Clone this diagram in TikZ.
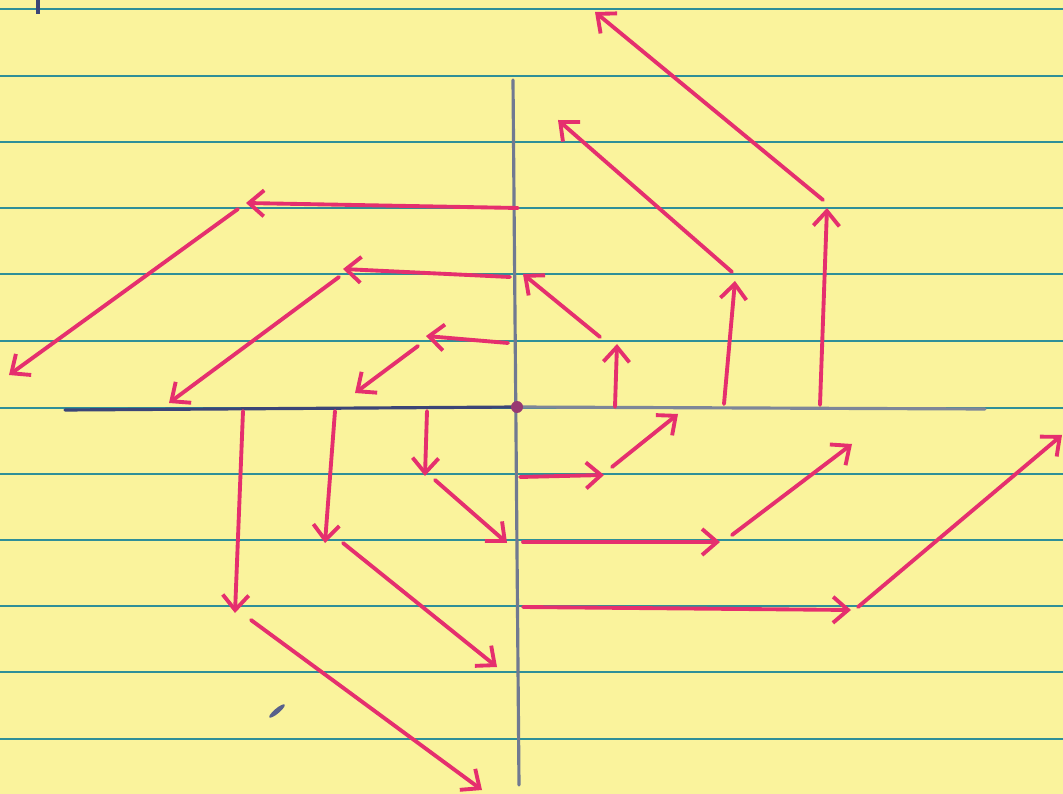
\documentclass[tikz,border=0pt]{standalone}
\usepackage{xcolor}
\usepackage{tikz}
\usetikzlibrary{arrows.meta}
\definecolor{paper}{HTML}{FAF39C}
\definecolor{ruling}{HTML}{2E8F98}
\definecolor{pen}{HTML}{E52F6E}
\definecolor{axisdark}{HTML}{3B4577}
\definecolor{axisgray}{HTML}{7D8698}

\begin{document}
\begin{tikzpicture}[x=0.01cm, y=-0.01cm,
  rule/.style={ruling, line width=0.6pt},
  ax/.style={line width=0.9pt, line cap=round},
  vec/.style={pen, line width=1.1pt, line cap=round, line join=round,
    -{Straight Barb[length=1.5mm,width=2.6mm]}}]
\fill[paper] (0,0) rectangle (1063,794);
\useasboundingbox (0,0) rectangle (1063,794);
\foreach \y in {9,76,142,208,274,341,408,474,540,606,672,739}
  \draw[rule] (0,\y) -- (1063,\y);

% axes
\coordinate (xl) at (65,410);
\coordinate (o) at (517,407);
\coordinate (xr) at (985,409);
\coordinate (yt) at (513,80);
\coordinate (yb) at (519,785);
\draw[ax, axisdark] (xl) -- (o);
\draw[ax, axisgray] (o) -- (xr);
\draw[ax, axisgray!80!axisdark] (yt) -- (yb);
\fill[pen!55!axisdark] (o) circle (6);

% upper right
\coordinate (ur1a) at (615,407);  \coordinate (ur1b) at (617,344);
\coordinate (ur1c) at (600,337);  \coordinate (ur1d) at (523,274);
\coordinate (ur2a) at (724,404);  \coordinate (ur2b) at (735,281);
\coordinate (ur2c) at (732,272);  \coordinate (ur2d) at (558,120);
\coordinate (ur3a) at (820,405);  \coordinate (ur3b) at (827,208);
\coordinate (ur3c) at (823,200);  \coordinate (ur3d) at (595,12);
\draw[vec] (ur1a) -- (ur1b);
\draw[vec] (ur1c) -- (ur1d);
\draw[vec] (ur2a) -- (ur2b);
\draw[vec] (ur2c) -- (ur2d);
\draw[vec] (ur3a) -- (ur3b);
\draw[vec] (ur3c) -- (ur3d);

% upper left
\coordinate (ul1a) at (508,343);  \coordinate (ul1b) at (426,336);
\coordinate (ul1c) at (418,346);  \coordinate (ul1d) at (355,393);
\coordinate (ul2a) at (510,277);  \coordinate (ul2b) at (343,269);
\coordinate (ul2c) at (339,277);  \coordinate (ul2d) at (169,403);
\coordinate (ul3a) at (518,208);  \coordinate (ul3b) at (246,203);
\coordinate (ul3c) at (238,209);  \coordinate (ul3d) at (9,375);
\draw[vec] (ul1a) -- (ul1b);
\draw[vec] (ul1c) -- (ul1d);
\draw[vec] (ul2a) -- (ul2b);
\draw[vec] (ul2c) -- (ul2d);
\draw[vec] (ul3a) -- (ul3b);
\draw[vec] (ul3c) -- (ul3d);

% lower left
\coordinate (ll1a) at (427,411);  \coordinate (ll1b) at (425,476);
\coordinate (ll1c) at (435,480);  \coordinate (ll1d) at (507,543);
\coordinate (ll2a) at (335,411);  \coordinate (ll2b) at (325,543);
\coordinate (ll2c) at (343,543);  \coordinate (ll2d) at (497,667);
\coordinate (ll3a) at (243,411);  \coordinate (ll3b) at (235,613);
\coordinate (ll3c) at (251,620);  \coordinate (ll3d) at (482,790);
\draw[vec] (ll1a) -- (ll1b);
\draw[vec] (ll1c) -- (ll1d);
\draw[vec] (ll2a) -- (ll2b);
\draw[vec] (ll2c) -- (ll2d);
\draw[vec] (ll3a) -- (ll3b);
\draw[vec] (ll3c) -- (ll3d);

% lower right
\coordinate (lr1a) at (520,477);  \coordinate (lr1b) at (604,475);
\coordinate (lr1c) at (612,467);  \coordinate (lr1d) at (678,414);
\coordinate (lr2a) at (523,542);  \coordinate (lr2b) at (720,542);
\coordinate (lr2c) at (732,535);  \coordinate (lr2d) at (852,444);
\coordinate (lr3a) at (523,607);  \coordinate (lr3b) at (851,610);
\coordinate (lr3c) at (858,607);  \coordinate (lr3d) at (1062,435);
\draw[vec] (lr1a) -- (lr1b);
\draw[vec] (lr1c) -- (lr1d);
\draw[vec] (lr2a) -- (lr2b);
\draw[vec] (lr2c) -- (lr2d);
\draw[vec] (lr3a) -- (lr3b);
\draw[vec] (lr3c) -- (lr3d);

% stray marks
\draw[axisdark, line width=1pt] (38,0) -- (38,14);
\fill[axisdark!85, rotate around={40:(277,711)}] (277,711) ellipse (10 and 2.5);
\end{tikzpicture}
\end{document}
